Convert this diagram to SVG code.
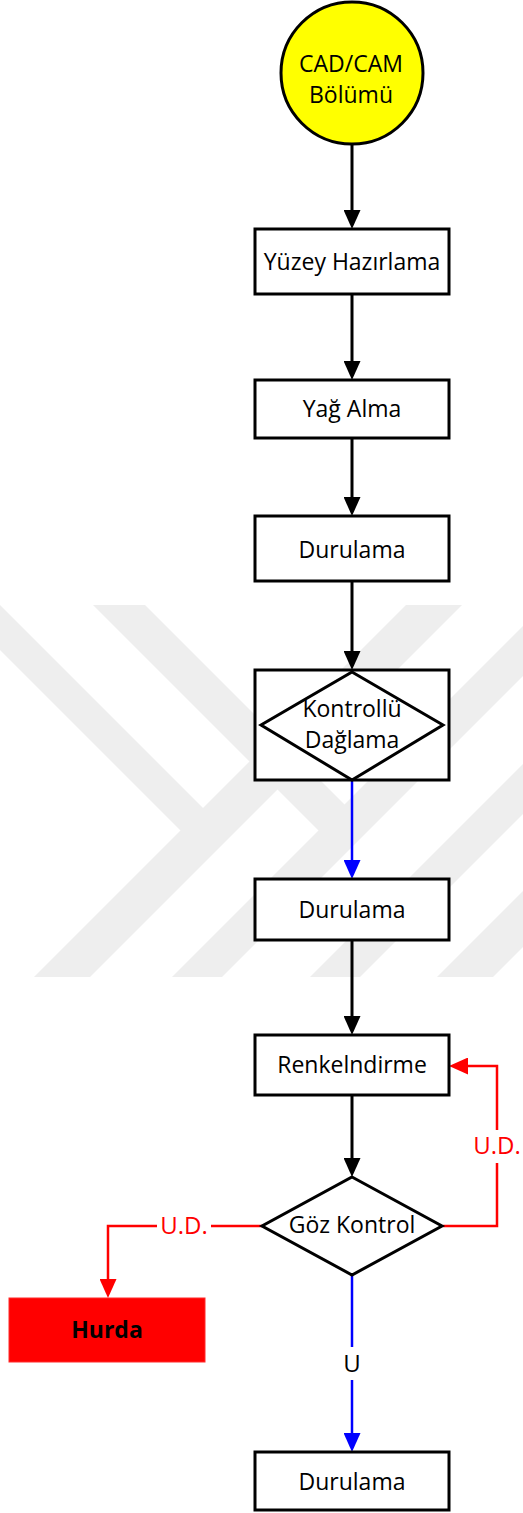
<svg xmlns="http://www.w3.org/2000/svg" width="523" height="1513" viewBox="0 0 523 1513">
  <style>
    .box { fill: #ffffff; stroke: #000000; stroke-width: 3; }
    .lbl { font-family: "Open Sans", "Noto Sans", sans-serif; font-size: 23px; fill: #000000; text-anchor: middle; }
    .wire { fill: none; stroke-width: 3; }
    .k { stroke: #000000; }
    .b { stroke: #0000ff; stroke-width: 2.5; }
    .r { stroke: #ff0000; stroke-width: 2.5; }
    .tag { font-family: "Open Sans", "Noto Sans", sans-serif; font-size: 24px; text-anchor: middle; }
    .wm { fill: #eeeeee; }
  </style>
  <defs>
    <marker id="ah-k" viewBox="0 0 19 17" refX="2" refY="8.5" markerWidth="19" markerHeight="17" markerUnits="userSpaceOnUse" orient="auto">
      <path d="M0,0 L19,8.5 L0,17 z" fill="#000000"/>
    </marker>
    <marker id="ah-b" viewBox="0 0 19 17" refX="2" refY="8.5" markerWidth="19" markerHeight="17" markerUnits="userSpaceOnUse" orient="auto">
      <path d="M0,0 L19,8.5 L0,17 z" fill="#0000ff"/>
    </marker>
    <marker id="ah-r" viewBox="0 0 19 17" refX="2" refY="8.5" markerWidth="19" markerHeight="17" markerUnits="userSpaceOnUse" orient="auto">
      <path d="M0,0 L19,8.5 L0,17 z" fill="#ff0000"/>
    </marker>
  </defs>

  <!-- background chevron stripes -->
  <g id="watermark">
    <polygon class="wm" points="406,605 462,605 90,977 34,977"/>
    <polygon class="wm" points="0,605 210,815 190,840 0,650"/>
    <polygon class="wm" points="93,605 145,605 350,810 325,837"/>
    <polygon class="wm" points="523,626 523,676 222,977 172,977"/>
    <polygon class="wm" points="523,764 523,814 360,977 310,977"/>
    <polygon class="wm" points="523,891 523,947 493,977 437,977"/>
  </g>

  <g id="connectors">
    <path class="wire k" d="M352,144 V212" marker-end="url(#ah-k)"/>
    <path class="wire k" d="M352,295 V363" marker-end="url(#ah-k)"/>
    <path class="wire k" d="M352,439 V499" marker-end="url(#ah-k)"/>
    <path class="wire k" d="M352,582 V653" marker-end="url(#ah-k)"/>
    <path class="wire b" d="M352,780 V862" marker-end="url(#ah-b)"/>
    <path class="wire k" d="M352,941 V1018" marker-end="url(#ah-k)"/>
    <path class="wire k" d="M352,1096 V1160" marker-end="url(#ah-k)"/>
    <!-- rework loop back to Renkelndirme -->
    <path class="wire r" d="M443,1226 H497 V1163"/>
    <path class="wire r" d="M497,1130 V1066 H466" marker-end="url(#ah-r)"/>
    <text class="tag" x="497" y="1154" fill="#ff0000">U.D.</text>
    <!-- reject path to Hurda -->
    <path class="wire r" d="M262,1226 H211"/>
    <path class="wire r" d="M157,1226 H108 V1281" marker-end="url(#ah-r)"/>
    <text class="tag" x="184" y="1234" fill="#ff0000">U.D.</text>
    <!-- pass path -->
    <path class="wire b" d="M352,1275 V1347"/>
    <path class="wire b" d="M352,1380 V1435" marker-end="url(#ah-b)"/>
    <text class="tag" x="352" y="1372" fill="#000000">U</text>
  </g>

  <g id="n-cadcam">
    <circle cx="352" cy="73" r="71" fill="#ffff00" stroke="#000000" stroke-width="3"/>
    <text class="lbl" x="351" y="72">CAD/CAM</text>
    <text class="lbl" x="351" y="103">Bölümü</text>
  </g>

  <g id="n-yuzey">
    <rect class="box" x="255" y="229" width="194" height="65"/>
    <text class="lbl" x="352" y="270">Yüzey Hazırlama</text>
  </g>

  <g id="n-yag">
    <rect class="box" x="255" y="380" width="194" height="58"/>
    <text class="lbl" x="352" y="417">Yağ Alma</text>
  </g>

  <g id="n-durulama1">
    <rect class="box" x="255" y="516" width="194" height="65"/>
    <text class="lbl" x="352" y="558">Durulama</text>
  </g>

  <g id="n-daglama">
    <rect class="box" x="255" y="670" width="194" height="110"/>
    <polygon points="352,672 443,725 352,780 261,725" fill="none" stroke="#000000" stroke-width="3"/>
    <text class="lbl" x="352" y="717">Kontrollü</text>
    <text class="lbl" x="352" y="748">Dağlama</text>
  </g>

  <g id="n-durulama2">
    <rect class="box" x="255" y="879" width="194" height="61"/>
    <text class="lbl" x="352" y="918">Durulama</text>
  </g>

  <g id="n-renk">
    <rect class="box" x="255" y="1035" width="194" height="60"/>
    <text class="lbl" x="352" y="1073">Renkelndirme</text>
  </g>

  <g id="n-goz">
    <polygon class="box" points="352,1177 442,1226 352,1275 262,1226"/>
    <text class="lbl" x="352" y="1233">Göz Kontrol</text>
  </g>

  <g id="n-hurda">
    <rect x="9" y="1298" width="196" height="64" fill="#ff0000" stroke="#ff2a2a" stroke-width="1"/>
    <text class="lbl" x="107" y="1338" font-weight="bold" font-size="21">Hurda</text>
  </g>

  <g id="n-durulama3">
    <rect class="box" x="255" y="1452" width="194" height="58"/>
    <text class="lbl" x="352" y="1490">Durulama</text>
  </g>
</svg>
